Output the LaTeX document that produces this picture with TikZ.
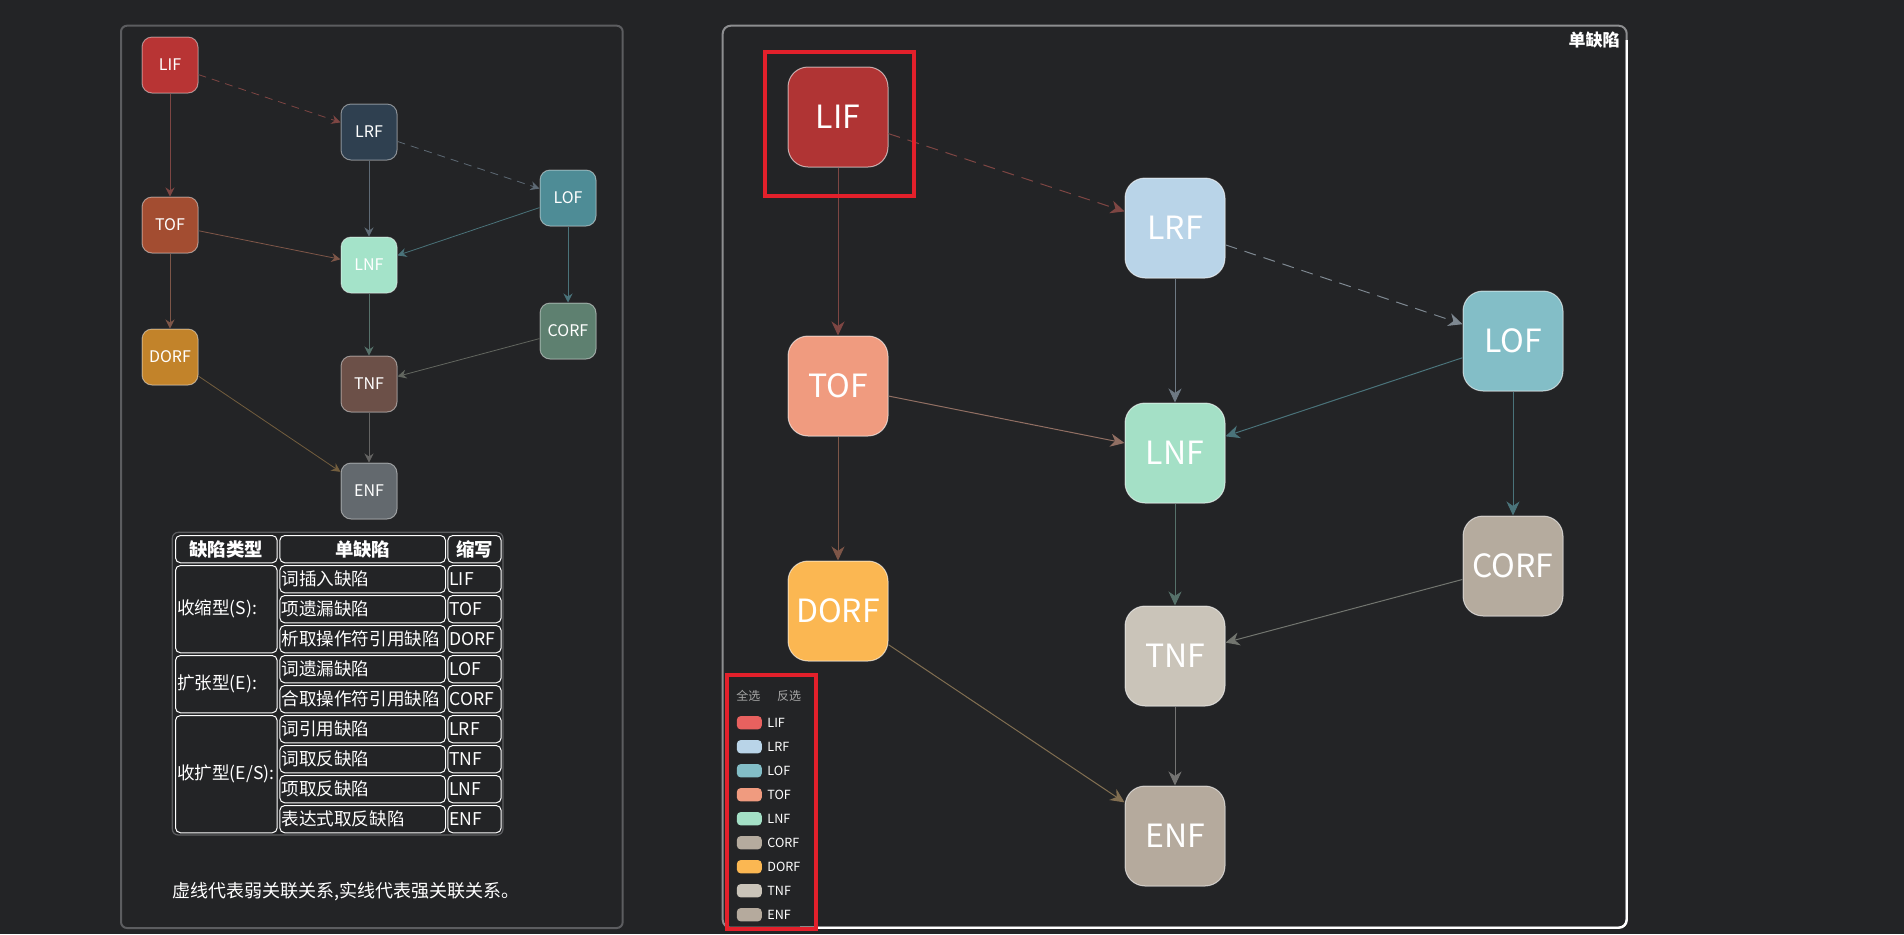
\documentclass[tikz,border=0pt]{standalone}
\usepackage{fontspec}
\setmainfont{Noto Sans CJK SC}
\usepackage{xcolor}
\usetikzlibrary{arrows.meta}

% page and frames
\definecolor{bg}{HTML}{232426}
\definecolor{frame}{HTML}{5C5D60}
\definecolor{hilite}{HTML}{E3202B}
% left graph fills
\definecolor{lLIF}{HTML}{B83434}
\definecolor{lLRF}{HTML}{2F4050}
\definecolor{lLOF}{HTML}{4E8C96}
\definecolor{lTOF}{HTML}{A34D31}
\definecolor{lLNF}{HTML}{A4E3C9}
\definecolor{lCORF}{HTML}{5E8070}
\definecolor{lDORF}{HTML}{C2832A}
\definecolor{lTNF}{HTML}{6C5048}
\definecolor{lENF}{HTML}{63696E}
% right graph fills
\definecolor{rLIF}{HTML}{B03434}
\definecolor{rLRF}{HTML}{B9D4E8}
\definecolor{rLOF}{HTML}{83BEC7}
\definecolor{rTOF}{HTML}{F09B7F}
\definecolor{rLNF}{HTML}{A4E0C6}
\definecolor{rCORF}{HTML}{B5AB9E}
\definecolor{rDORF}{HTML}{FBB752}
\definecolor{rTNF}{HTML}{CAC4B9}
\definecolor{rENF}{HTML}{B5AA9D}
\definecolor{gLIF}{HTML}{E8615F}
% edge colours
\definecolor{eLIF}{HTML}{7E4643}
\definecolor{eLRF}{HTML}{5E6A75}
\definecolor{eLOF}{HTML}{4A737A}
\definecolor{eTOF}{HTML}{7E5648}
\definecolor{eLNF}{HTML}{56716A}
\definecolor{eCORF}{HTML}{62665F}
\definecolor{eDORF}{HTML}{735E3E}
\definecolor{eTNF}{HTML}{646463}

\tikzset{
  smallnode/.style={fill=#1, draw=white, draw opacity=0.45, line width=0.5pt,
    rounded corners=5pt, minimum width=28pt, minimum height=28pt, inner sep=0pt,
    text=white, font=\fontsize{8}{8}\selectfont},
  bignode/.style={fill=#1, draw=white, draw opacity=0.6, line width=0.5pt,
    rounded corners=10pt, minimum width=50pt, minimum height=50pt, inner sep=0pt,
    text=white, font=\fontsize{16}{16}\selectfont},
  thin link/.style={draw=#1, line width=0.4pt,
    -{Stealth[length=4.5pt,width=4.5pt,inset=1.5pt]}},
  thick link/.style={draw=#1, line width=0.5pt,
    -{Stealth[length=7pt,width=6.5pt,inset=2.2pt]}},
  weak/.style={dash pattern=on 4pt off 3pt},
  cell/.style={draw=white, line width=0.5pt, rounded corners=2.5pt,
    anchor=north west, minimum height=13.65pt, inner xsep=0.8pt, inner ysep=0pt,
    text=white, font=\fontsize{8.8}{8.8}\selectfont, align=left},
  swatch/.style={fill=#1, rounded corners=2pt, minimum width=12.5pt,
    minimum height=6.7pt, inner sep=0pt},
  legtext/.style={anchor=west, inner sep=0pt, text=white,
    font=\fontsize{6.3}{6.3}\selectfont}
}

\begin{document}
\begin{tikzpicture}[x=0.5pt, y=-0.5pt]
  \fill[bg] (0,0) rectangle (1904,934);
  \useasboundingbox (0,0) rectangle (1904,934);

  % ---------- left panel ----------
  \draw[frame, line width=1pt, rounded corners=3pt] (121,25.7) rectangle (622.7,928);

  \node[smallnode=lLIF] (sLIF) at (170,65) {LIF};
  \node[smallnode=lLRF] (sLRF) at (369,132) {LRF};
  \node[smallnode=lLOF] (sLOF) at (568,198) {LOF};
  \node[smallnode=lTOF] (sTOF) at (170,225) {TOF};
  \node[smallnode=lLNF] (sLNF) at (369,265) {LNF};
  \node[smallnode=lCORF] (sCORF) at (568,331) {CORF};
  \node[smallnode=lDORF] (sDORF) at (170,357) {DORF};
  \node[smallnode=lTNF] (sTNF) at (369,384) {TNF};
  \node[smallnode=lENF] (sENF) at (369,491) {ENF};

  \draw[thin link=eLIF, weak] (sLIF) -- (sLRF); % weak
  \draw[thin link=eLIF] (sLIF) -- (sTOF);
  \draw[thin link=eLRF, weak] (sLRF) -- (sLOF); % weak
  \draw[thin link=eLRF] (sLRF) -- (sLNF);
  \draw[thin link=eLOF] (sLOF) -- (sLNF);
  \draw[thin link=eLOF] (sLOF) -- (sCORF);
  \draw[thin link=eTOF] (sTOF) -- (sLNF);
  \draw[thin link=eTOF] (sTOF) -- (sDORF);
  \draw[thin link=eLNF] (sLNF) -- (sTNF);
  \draw[thin link=eCORF] (sCORF) -- (sTNF);
  \draw[thin link=eDORF] (sDORF) -- (sENF);
  \draw[thin link=eTNF] (sTNF) -- (sENF);

  % table
  \draw[frame, line width=0.6pt, rounded corners=3pt] (172.3,532.3) rectangle (503,835);
  \node[cell, minimum width=50.85pt, align=center, font=\fontsize{9.2}{9.2}\selectfont\bfseries] (hType) at (175,535) {缺陷类型};
  \node[cell, minimum width=82.85pt, align=center, font=\fontsize{9.2}{9.2}\selectfont\bfseries] (hName) at (279.3,535) {单缺陷};
  \node[cell, minimum width=26.7pt, align=center, font=\fontsize{9.2}{9.2}\selectfont\bfseries] (hAbbr) at (447.3,535) {缩写};

  \node[cell, text width=49.25pt, minimum height=43.65pt] (gS) at (175,565) {收缩型(S):};
  \node[cell, text width=49.25pt, minimum height=28.65pt] (gE) at (175,655) {扩张型(E):};
  \node[cell, text width=49.25pt, minimum height=58.65pt] (gES) at (175,715) {收扩型(E/S):};

  \node[cell, text width=81.25pt] (n1) at (279.3,565) {词插入缺陷};
  \node[cell, text width=81.25pt] (n2) at (279.3,595) {项遗漏缺陷};
  \node[cell, text width=81.25pt] (n3) at (279.3,625) {析取操作符引用缺陷};
  \node[cell, text width=81.25pt] (n4) at (279.3,655) {词遗漏缺陷};
  \node[cell, text width=81.25pt] (n5) at (279.3,685) {合取操作符引用缺陷};
  \node[cell, text width=81.25pt] (n6) at (279.3,715) {词引用缺陷};
  \node[cell, text width=81.25pt] (n7) at (279.3,745) {词取反缺陷};
  \node[cell, text width=81.25pt] (n8) at (279.3,775) {项取反缺陷};
  \node[cell, text width=81.25pt] (n9) at (279.3,805) {表达式取反缺陷};

  \node[cell, text width=25.1pt] (a1) at (447.3,565) {LIF};
  \node[cell, text width=25.1pt] (a2) at (447.3,595) {TOF};
  \node[cell, text width=25.1pt] (a3) at (447.3,625) {DORF};
  \node[cell, text width=25.1pt] (a4) at (447.3,655) {LOF};
  \node[cell, text width=25.1pt] (a5) at (447.3,685) {CORF};
  \node[cell, text width=25.1pt] (a6) at (447.3,715) {LRF};
  \node[cell, text width=25.1pt] (a7) at (447.3,745) {TNF};
  \node[cell, text width=25.1pt] (a8) at (447.3,775) {LNF};
  \node[cell, text width=25.1pt] (a9) at (447.3,805) {ENF};

  \node[anchor=west, inner sep=0pt, text=white, font=\fontsize{9}{9}\selectfont] (note) at (171.7,892) {虚线代表弱关联关系,实线代表强关联关系。};

  % ---------- right panel ----------
  \draw[frame!70!white, line width=1pt, rounded corners=4pt] (722.7,25.7) rectangle (1626.7,927.7);
  \draw[white, line width=1.2pt, rounded corners=4pt] (1626.7,40) -- (1626.7,927.7) -- (800,927.7);
  \node[anchor=east, inner sep=0pt, text=white, font=\fontsize{8.5}{8.5}\selectfont\bfseries] (title) at (1620,40.5) {单缺陷};

  \node[bignode=rLIF] (bLIF) at (838,117) {LIF};
  \node[bignode=rLRF] (bLRF) at (1175,228) {LRF};
  \node[bignode=rLOF] (bLOF) at (1513,341) {LOF};
  \node[bignode=rTOF] (bTOF) at (838,386) {TOF};
  \node[bignode=rLNF] (bLNF) at (1175,453) {LNF};
  \node[bignode=rCORF] (bCORF) at (1513,566) {CORF};
  \node[bignode=rDORF] (bDORF) at (838,611) {DORF};
  \node[bignode=rTNF] (bTNF) at (1175,656) {TNF};
  \node[bignode=rENF] (bENF) at (1175,836) {ENF};

  \draw[thick link=eLIF, weak, dash pattern=on 6pt off 4pt] (bLIF) -- (bLRF); % weak
  \draw[thick link=eLIF] (bLIF) -- (bTOF);
  \draw[thick link=eLRF!80!white, weak, dash pattern=on 6pt off 4pt] (bLRF) -- (bLOF); % weak
  \draw[thick link=eLRF!90!white] (bLRF) -- (bLNF);
  \draw[thick link=eLOF] (bLOF) -- (bLNF);
  \draw[thick link=eLOF] (bLOF) -- (bCORF);
  \draw[thick link=eTOF!85!white] (bTOF) -- (bLNF);
  \draw[thick link=eTOF] (bTOF) -- (bDORF);
  \draw[thick link=eLNF] (bLNF) -- (bTNF);
  \draw[thick link=eCORF!90!white] (bCORF) -- (bTNF);
  \draw[thick link=eDORF!90!white] (bDORF) -- (bENF);
  \draw[thick link=eTNF!90!white] (bTNF) -- (bENF);

  % highlight boxes
  \draw[hilite, line width=2pt] (764.8,52.3) rectangle (914,195.7);
  \draw[hilite, line width=2pt] (726.7,675) rectangle (815.7,929.3);

  % legend
  \node[anchor=west, inner sep=0pt, text=white!65!black, font=\fontsize{6}{6}\selectfont] (selAll) at (736,696) {全选};
  \node[anchor=west, inner sep=0pt, text=white!65!black, font=\fontsize{6}{6}\selectfont] (selInv) at (776.7,696) {反选};
  \node[swatch=gLIF] (kLIF) at (749.3,722.7) {};   \node[legtext] at (767,722.7) {LIF};
  \node[swatch=rLRF] (kLRF) at (749.3,746.7) {};   \node[legtext] at (767,746.7) {LRF};
  \node[swatch=rLOF] (kLOF) at (749.3,770.7) {};   \node[legtext] at (767,770.7) {LOF};
  \node[swatch=rTOF] (kTOF) at (749.3,794.7) {};   \node[legtext] at (767,794.7) {TOF};
  \node[swatch=rLNF] (kLNF) at (749.3,818.7) {};   \node[legtext] at (767,818.7) {LNF};
  \node[swatch=rCORF] (kCORF) at (749.3,842.7) {}; \node[legtext] at (767,842.7) {CORF};
  \node[swatch=rDORF] (kDORF) at (749.3,866.7) {}; \node[legtext] at (767,866.7) {DORF};
  \node[swatch=rTNF] (kTNF) at (749.3,890.7) {};   \node[legtext] at (767,890.7) {TNF};
  \node[swatch=rENF] (kENF) at (749.3,914.7) {};   \node[legtext] at (767,914.7) {ENF};
\end{tikzpicture}
\end{document}
